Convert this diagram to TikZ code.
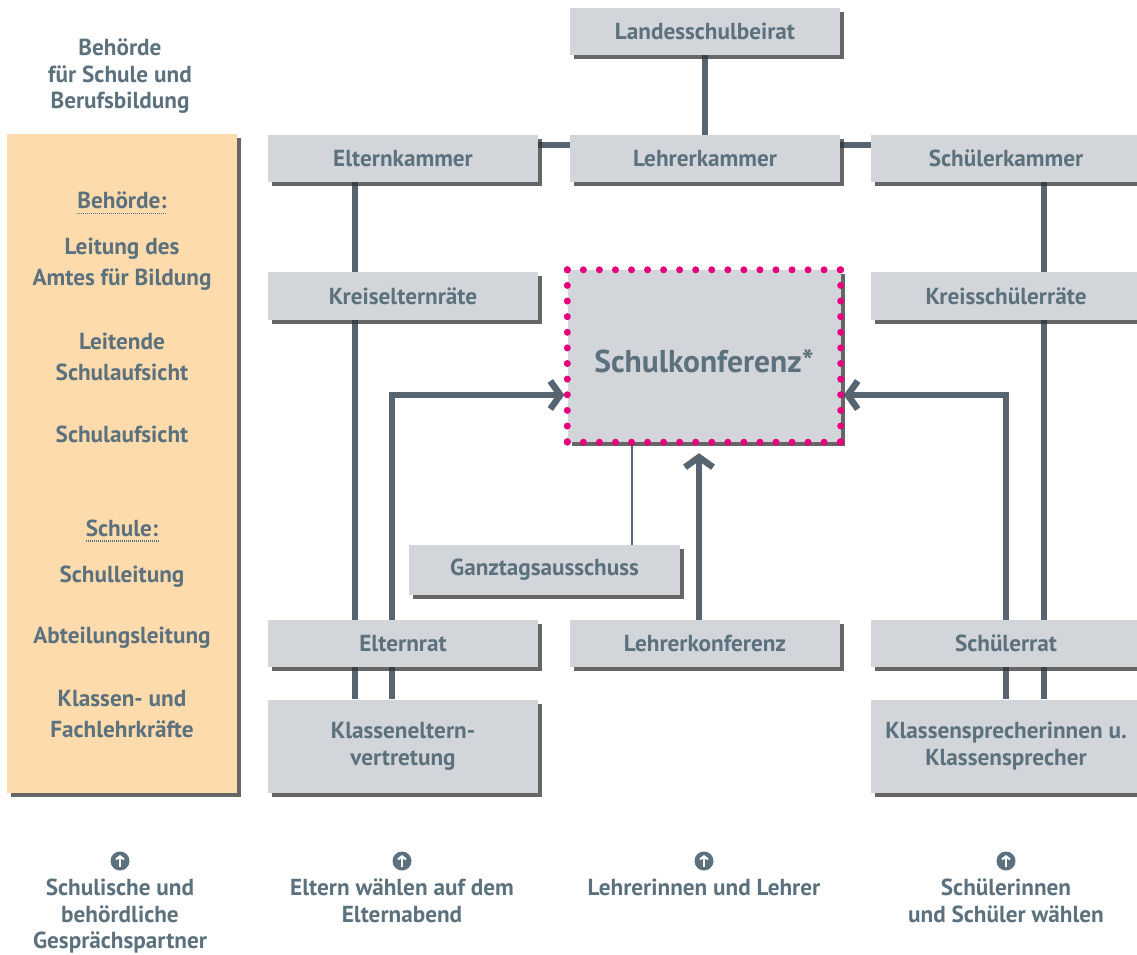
\documentclass[tikz,border=0pt]{standalone}
\usepackage{fontspec}
\setmainfont{PT Sans}
\usetikzlibrary{arrows.meta,shadows,calc}
\definecolor{txt}{RGB}{92,113,126}
\definecolor{lin}{RGB}{86,101,112}
\definecolor{boxgray}{RGB}{210,213,217}
\definecolor{panel}{RGB}{253,219,172}
\definecolor{mag}{RGB}{230,0,126}
\pgfdeclarelayer{bg}
\pgfsetlayers{bg,main}
\begin{document}
\begin{tikzpicture}[x=1pt,y=-1pt,
  shad/.style={drop shadow={shadow xshift=4pt,shadow yshift=-4pt,fill=black!80,opacity=0.75}},
  box/.style={shad,fill=boxgray,minimum width=270pt,minimum height=47pt,inner sep=0pt,
    text=txt,font=\bfseries\fontsize{23.2}{27}\selectfont,align=center},
  lbl/.style={text=txt,inner sep=0pt,align=center,anchor=north,font=\bfseries\fontsize{23.2}{26.5}\selectfont},
  plbl/.style={lbl,font=\bfseries\fontsize{23.2}{31}\selectfont},
  conn/.style={draw=lin,line width=6.5pt},
  arr/.style={conn,-{Straight Barb[length=10pt,width=28pt]}},
  uline/.style={draw=txt,line width=1.6pt,dash pattern=on 1pt off 1pt},
  icon/.style={circle,fill=txt,minimum size=19pt,inner sep=0pt},
  dotsh/.style={draw=mag,line width=7pt,line cap=round,dash pattern=on 0pt off 16.05pt},
  dotsv/.style={draw=mag,line width=7pt,line cap=round,dash pattern=on 0pt off 15.62pt}]
\useasboundingbox (0,0) rectangle (1137,955);

% left panel
\node[shad,fill=panel,minimum width=230pt,minimum height=659pt,inner sep=0pt] (pan) at (122,463.5) {};
\node[lbl] (hdr) at (120,39) {Behörde\\für Schule und\\Berufsbildung};
\node[plbl] (bh) at (122,192) {Behörde:};
\node[plbl] (p1) at (122,238) {Leitung des\\Amtes für Bildung};
\node[plbl] (p2) at (122,333) {Leitende\\Schulaufsicht};
\node[plbl] (p3) at (122,426) {Schulaufsicht};
\node[plbl] (sc) at (122,520) {Schule:};
\node[plbl] (p4) at (122,566) {Schulleitung};
\node[plbl] (p5) at (122,627) {Abteilungsleitung};
\node[plbl] (p6) at (122,690) {Klassen- und\\Fachlehrkräfte};
\draw[uline] ([yshift=-4pt]bh.south west) -- ([yshift=-4pt]bh.south east);
\draw[uline] ([yshift=-4pt]sc.south west) -- ([yshift=-4pt]sc.south east);

% boxes
\node[box] (lsb) at (705,31.5) {Landesschulbeirat};
\node[box] (ek) at (403,158.5) {Elternkammer};
\node[box] (lk) at (705,158.5) {Lehrerkammer};
\node[box] (sk) at (1006,158.5) {Schülerkammer};
\node[box,minimum height=48pt] (ker) at (403,296) {Kreiselternräte};
\node[box,minimum height=48pt] (ksr) at (1006,296) {Kreisschülerräte};
\node[box,minimum width=273pt,minimum height=172pt,font=\bfseries\fontsize{31.5}{36}\selectfont] (sko) at (704,356) {\raisebox{-16pt}[0pt][0pt]{Schulkonferenz*}};
\node[box,minimum width=271pt,minimum height=50pt] (gta) at (544.5,570) {Ganztagsausschuss};
\node[box] (er) at (403,643.5) {Elternrat};
\node[box] (lkf) at (705,643.5) {Lehrerkonferenz};
\node[box] (sr) at (1006,643.5) {Schülerrat};
\node[box,minimum height=93pt] (kev) at (403,746) {Klasseneltern-\\vertretung};
\node[box,minimum height=93pt] (ksp) at (1006,746) {Klassensprecherinnen u.\\Klassensprecher};

% dotted border of Schulkonferenz
\draw[dotsh] (sko.north west) -- (sko.north east);
\draw[dotsh] (sko.south west) -- (sko.south east);
\draw[dotsv] (sko.north west) -- (sko.south west);
\draw[dotsv] (sko.north east) -- (sko.south east);

% helper coordinates
\coordinate (hk) at (0,145);
\coordinate (xL) at (355,0);
\coordinate (xL2) at (392,0);
\coordinate (xR) at (1044,0);
\coordinate (xR2) at (1006,0);
\coordinate (xM) at (699,0);
\coordinate (xG) at (632,0);
\coordinate (yA) at (0,395);

\begin{pgfonlayer}{bg}
\draw[conn] (lsb) -- (lk);
\draw[conn] (ek.east |- hk) -- (lk.west |- hk);
\draw[conn] (lk.east |- hk) -- (sk.west |- hk);
\draw[conn] (ek.south -| xL) -- (kev.north -| xL);
\draw[conn] (sk.south -| xR) -- (ksp.north -| xR);
\draw[draw=lin,line width=2.2pt] (gta.north -| xG) -- (sko.south -| xG);
\draw[arr] (kev.north -| xL2) |- ([xshift=-3pt]sko.west |- yA);
\draw[arr] (ksp.north -| xR2) |- ([xshift=3pt]sko.east |- yA);
\draw[arr] (lkf.north -| xM) -- ([yshift=-11pt]sko.south -| xM);
\end{pgfonlayer}

% bottom legend
\foreach \n/\x in {1/120,2/402,3/704,4/1006}{
  \node[icon] (ic\n) at (\x,861) {};
  \draw[white,line width=2.2pt,-{Straight Barb[length=3pt,width=8pt]}] ([yshift=-6pt]ic\n.center) -- ([yshift=6pt]ic\n.center);
}
\node[lbl] (b1) at (120,879) {Schulische und\\behördliche\\Gesprächspartner};
\node[lbl] (b2) at (402,879) {Eltern wählen auf dem\\Elternabend};
\node[lbl] (b3) at (704,879) {Lehrerinnen und Lehrer};
\node[lbl] (b4) at (1006,879) {Schülerinnen\\und Schüler wählen};
\end{tikzpicture}
\end{document}
